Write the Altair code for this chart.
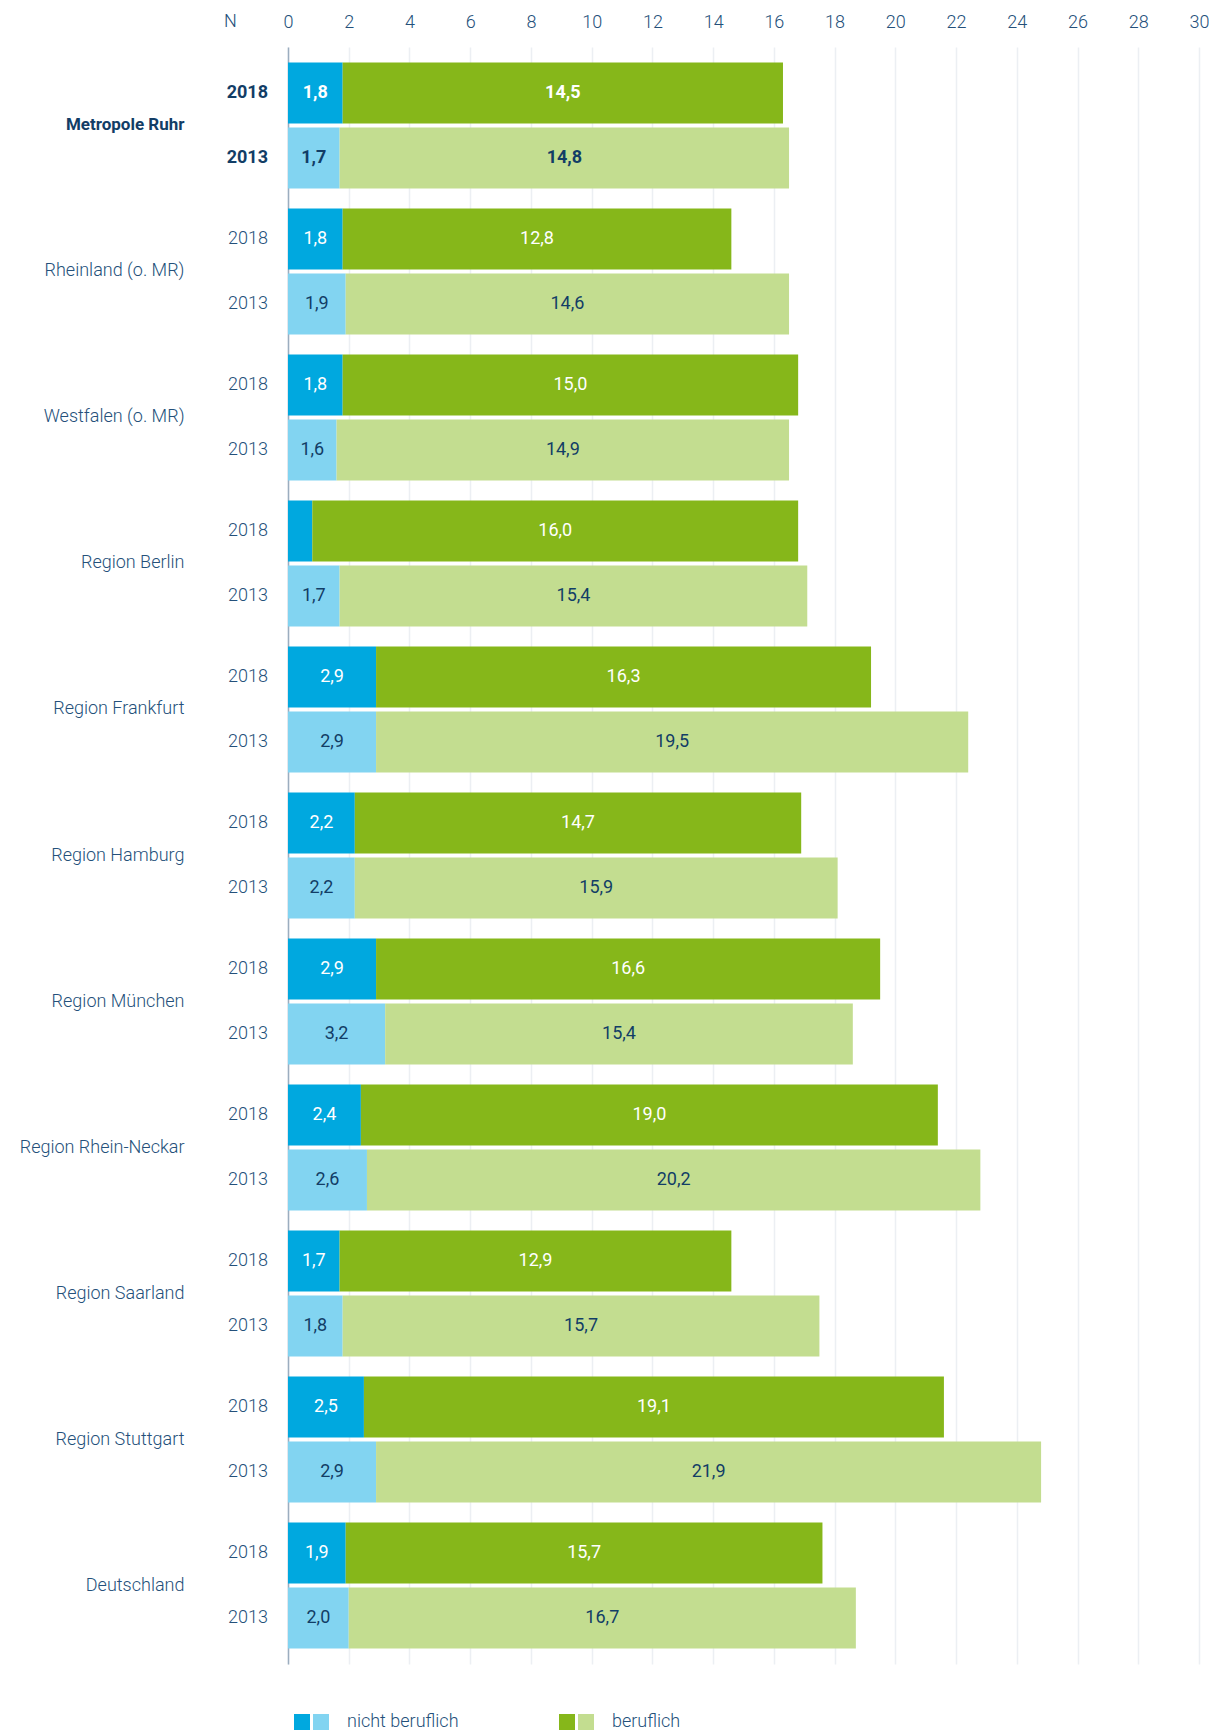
import altair as alt
import pandas as pd

regions = ["Metropole Ruhr", "Rheinland (o. MR)", "Westfalen (o. MR)", "Region Berlin",
           "Region Frankfurt", "Region Hamburg", "Region München", "Region Rhein-Neckar",
           "Region Saarland", "Region Stuttgart", "Deutschland"]
years = ["2018", "2013"]
categories = ["nicht beruflich", "beruflich"]
nb_2018 = [1.8, 1.8, 1.8, 0.8, 2.9, 2.2, 2.9, 2.4, 1.7, 2.5, 1.9]
b_2018 = [14.5, 12.8, 15.0, 16.0, 16.3, 14.7, 16.6, 19.0, 12.9, 19.1, 15.7]
nb_2013 = [1.7, 1.9, 1.6, 1.7, 2.9, 2.2, 3.2, 2.6, 1.8, 2.9, 2.0]
b_2013 = [14.8, 14.6, 14.9, 15.4, 19.5, 15.9, 15.4, 20.2, 15.7, 21.9, 16.7]
x_ticks = list(range(0, 31, 2))

keys = ["nicht beruflich|2018", "nicht beruflich|2013", "beruflich|2018", "beruflich|2013"]
colors = ["#00a8df", "#82d4f1", "#86b71a", "#c3dd90"]

FONT = "Roboto"
LIGHT = 300
TXT = "#24507a"
DARK = "#123d66"
W, H = 911, 1617

rows = []
for i, r in enumerate(regions):
    for y, nb, b in (("2018", nb_2018[i], b_2018[i]), ("2013", nb_2013[i], b_2013[i])):
        rows.append({"region": r, "year": y, "cat": "nicht beruflich", "value": nb})
        rows.append({"region": r, "year": y, "cat": "beruflich", "value": b})
df = pd.DataFrame(rows)

legend_df = pd.DataFrame([{"cat": c, "year": y} for c in categories for y in years])

is_ruhr = "datum.region == 'Metropole Ruhr'"
not_ruhr = "datum.region != 'Metropole Ruhr'"

base = alt.Chart(df).transform_calculate(
    order="datum.cat == 'nicht beruflich' ? 0 : 1"
).transform_stack(
    stack="value", groupby=["region", "year"], as_=["x0", "x1"],
    sort=[alt.SortField("order", order="ascending")]
).transform_calculate(
    mid="(datum.x0 + datum.x1) / 2",
    key="datum.cat + '|' + datum.year",
    lab="datum.value >= 1 ? replace(format(datum.value, '.1f'), '.', ',') : ''"
)

ruhr_label = "datum.value == 'Metropole Ruhr'"
y_enc = alt.Y("region:N", sort=regions,
              scale=alt.Scale(domain=regions, paddingInner=0.137, paddingOuter=0.106),
              axis=alt.Axis(title=None, ticks=False, domain=True, domainColor="#9badbf",
                            domainWidth=1.5, grid=False, labelPadding=104, labelLimit=300,
                            labelFont=FONT,
                            labelFontSize=alt.condition(ruhr_label, alt.value(17), alt.value(18)),
                            labelFontWeight=alt.condition(ruhr_label, alt.value("bold"), alt.value(LIGHT)),
                            labelColor=alt.condition(ruhr_label, alt.value(DARK), alt.value(TXT))))
yoff_enc = alt.YOffset("year:N", sort=years,
                       scale=alt.Scale(domain=years, paddingInner=0.0615, paddingOuter=0))


def xq(field, axis):
    return alt.X(field, scale=alt.Scale(domain=[0, 30], nice=False, zero=True), axis=axis)


bars = base.mark_bar(cornerRadius=0).encode(
    x=xq("x0:Q", alt.Axis(orient="top", values=x_ticks, title="N", titleX=-58, titleY=-21,
                          titleAngle=0, titleAlign="center", titleBaseline="alphabetic",
                          titleFont=FONT, titleFontSize=18, titleFontWeight=LIGHT, titleColor=TXT,
                          labelFont=FONT, labelFontSize=18, labelFontWeight=LIGHT, labelColor=TXT,
                          labelPadding=16, ticks=False, domain=False, grid=True,
                          gridColor="#eceff3", gridWidth=1.5, labelFlush=False)),
    x2="x1:Q",
    y=y_enc,
    yOffset=yoff_enc,
    color=alt.Color("key:N", scale=alt.Scale(domain=keys, range=colors), legend=None),
)


def value_labels(test, weight):
    return base.transform_filter(test).mark_text(
        font=FONT, fontSize=18, baseline="middle", align="center", fontWeight=weight
    ).encode(
        x=xq("mid:Q", None),
        y=y_enc,
        yOffset=yoff_enc,
        text="lab:N",
        color=alt.condition("datum.year == '2018'", alt.value("#ffffff"), alt.value(DARK)),
    )


def year_labels(test, weight, color):
    return base.transform_filter("datum.cat == 'beruflich'").transform_filter(test).mark_text(
        font=FONT, fontSize=18, align="right", baseline="middle", fontWeight=weight, color=color
    ).encode(
        x=alt.value(-20),
        y=y_enc,
        yOffset=yoff_enc,
        text="year:N",
    )


LEG_Y = H + 58
leg_base = alt.Chart(legend_df).transform_calculate(key="datum.cat + '|' + datum.year")
leg_x = alt.X("cat:N", sort=categories,
              scale=alt.Scale(type="point", domain=categories, range=[0, 265], padding=0),
              axis=None)
leg_color = alt.Color("key:N", scale=alt.Scale(domain=keys, range=colors), legend=None)
leg_dark = leg_base.transform_filter("datum.year == '2018'").mark_square(
    size=256, opacity=1, filled=True, xOffset=14).encode(
    x=leg_x, y=alt.value(LEG_Y), color=leg_color)
leg_light = leg_base.transform_filter("datum.year == '2013'").mark_square(
    size=256, opacity=1, filled=True, xOffset=33).encode(
    x=leg_x, y=alt.value(LEG_Y), color=leg_color)
leg_text = leg_base.transform_filter("datum.year == '2018'").mark_text(
    font=FONT, fontSize=18, fontWeight=LIGHT, align="left", baseline="middle", dx=59,
    color=TXT).encode(
    x=leg_x, y=alt.value(LEG_Y), text="cat:N")

chart = alt.layer(
    bars,
    value_labels(not_ruhr, "normal"), value_labels(is_ruhr, "bold"),
    year_labels(not_ruhr, LIGHT, TXT), year_labels(is_ruhr, "bold", DARK),
    leg_dark, leg_light, leg_text,
).resolve_scale(
    x="independent"
).properties(
    width=W, height=H, background="white",
    padding={"left": 11, "top": 4, "right": 0, "bottom": 0}
).configure_view(stroke=None)

chart.save("out.html", embed_options={"renderer": "svg", "actions": False})
